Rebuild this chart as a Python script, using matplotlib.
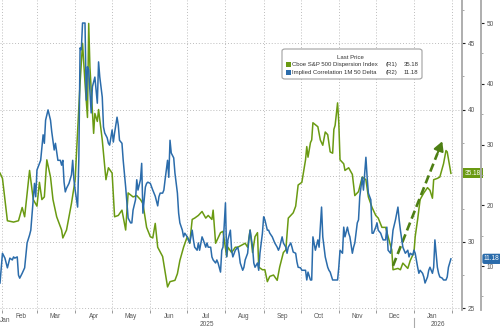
import matplotlib
matplotlib.use("Agg")
import matplotlib.pyplot as plt
import pandas as pd
from matplotlib.patches import FancyBboxPatch, Rectangle
from matplotlib.transforms import blended_transform_factory

# ---------------- data ----------------
start_date = "2025-01-30"
end_date = "2026-02-09"

# Cboe S&P 500 Dispersion Index (R1) -- days since start_date, values
green_days = [0, 2, 6, 11, 15, 18, 20, 24, 27, 30, 32, 34, 36, 38, 41, 43, 46, 50, 51, 54,
              58, 61, 65, 67, 69, 71, 72, 73, 76, 77, 79, 80, 83, 86, 88, 91, 93, 96, 99, 102,
              104, 108, 111, 114, 116, 119, 122, 124, 126, 128, 132, 136, 138, 142, 144, 146, 149, 152, 154, 156,
              158, 161, 164, 167, 169, 172, 173, 175, 179, 181, 184, 185, 188, 191, 193, 197, 199, 201, 203, 205,
              207, 209, 210, 213, 215, 217, 219, 222, 225, 227, 230, 232, 234, 238, 240, 242, 245, 248, 249, 250,
              252, 253, 254, 258, 260, 262, 264, 266, 268, 270, 271, 272, 274, 275, 276, 279, 280, 283, 286, 288,
              291, 294, 297, 299, 302, 305, 307, 310, 313, 315, 318, 319, 323, 325, 327, 331, 333, 336, 337, 339,
              341, 344, 347, 349, 351, 352, 355, 357, 360, 362, 363, 366]
green_vals = [35.2, 34.8, 31.6, 31.5, 31.6, 32.6, 31.9, 35.4, 33.2, 32.7, 34.5, 33.2, 33.4, 36.2, 34.9, 33.2, 31.9, 30.9, 30.3, 30.9,
              32.9, 34.7, 42.0, 45.0, 42.0, 39.4, 46.5, 43.2, 38.2, 39.7, 39.1, 40.0, 37.7, 34.7, 35.6, 35.2, 31.9, 32.0, 32.4, 30.9,
              33.7, 33.4, 33.5, 33.2, 32.9, 31.1, 30.4, 30.3, 31.4, 29.6, 28.9, 26.6, 27.0, 27.1, 27.6, 28.6, 29.6, 30.4, 29.9, 31.7,
              31.8, 32.0, 32.3, 31.8, 32.0, 31.7, 32.4, 29.9, 30.7, 30.8, 28.9, 29.6, 29.2, 29.6, 29.6, 29.8, 29.9, 29.6, 30.9, 29.2,
              30.4, 30.7, 28.1, 27.9, 27.9, 27.0, 27.4, 27.5, 27.1, 28.1, 29.2, 29.4, 31.8, 32.2, 32.7, 34.3, 34.5, 36.2, 37.2, 36.4,
              37.5, 37.7, 39.0, 38.7, 37.7, 37.3, 38.3, 38.1, 36.8, 36.7, 38.5, 38.8, 40.5, 39.0, 36.2, 35.9, 35.4, 35.6, 35.1, 33.5,
              33.8, 34.9, 34.7, 33.4, 32.6, 32.0, 31.8, 31.1, 31.1, 30.4, 29.4, 27.9, 28.0, 27.9, 28.4, 28.0, 28.6, 29.2, 30.4, 31.7,
              33.2, 33.7, 34.1, 33.9, 33.3, 34.7, 34.8, 34.9, 35.9, 36.9, 36.8, 35.18]

# Implied Correlation 1M 50 Delta (R2)
blue_days = [0, 2, 4, 6, 8, 10, 11, 12, 14, 15, 16, 18, 20, 22, 24, 25, 27, 28, 29, 30,
             32, 33, 35, 36, 37, 39, 41, 42, 44, 45, 47, 49, 50, 51, 52, 53, 54, 56, 58, 59,
             60, 61, 63, 64, 65, 66, 67, 69, 70, 71, 72, 74, 75, 77, 79, 80, 81, 83, 84, 85,
             87, 88, 89, 91, 92, 93, 95, 96, 97, 99, 100, 102, 103, 104, 106, 107, 108, 110, 111, 112,
             114, 115, 116, 118, 119, 120, 122, 124, 126, 128, 129, 130, 132, 133, 134, 136, 137, 138, 139, 141,
             142, 144, 145, 146, 148, 149, 150, 152, 153, 154, 156, 157, 158, 160, 161, 162, 164, 165, 167, 168,
             169, 171, 172, 173, 175, 176, 177, 179, 180, 181, 183, 184, 185, 187, 188, 189, 191, 193, 194, 195,
             197, 198, 199, 201, 202, 203, 205, 206, 207, 209, 210, 211, 213, 214, 215, 217, 218, 219, 221, 222,
             223, 225, 226, 227, 229, 230, 232, 233, 234, 236, 237, 238, 240, 241, 242, 244, 245, 246, 248, 249,
             250, 252, 253, 254, 256, 258, 259, 260, 261, 262, 264, 266, 267, 268, 270, 271, 272, 274, 275, 276,
             278, 279, 280, 282, 283, 284, 286, 287, 288, 290, 291, 292, 294, 295, 297, 298, 299, 301, 302, 303,
             305, 306, 307, 309, 310, 311, 313, 314, 315, 317, 318, 319, 321, 323, 324, 325, 327, 328, 329, 331,
             332, 333, 335, 336, 337, 339, 340, 341, 343, 344, 345, 347, 348, 349, 351, 352, 353, 355, 356, 357,
             359, 360, 362, 363, 364, 366]
blue_vals = [7.2, 12.1, 11.3, 9.7, 11.3, 11.0, 11.5, 11.3, 11.5, 8.5, 8.0, 8.8, 9.7, 13.8, 15.1, 15.9, 20.9, 23.6, 21.4, 25.8,
             26.9, 27.4, 31.6, 30.2, 34.0, 35.7, 34.0, 32.1, 29.1, 30.2, 27.4, 27.4, 26.6, 27.4, 23.8, 22.2, 22.8, 23.6, 25.0, 27.4,
             24.2, 22.5, 19.7, 27.8, 45.9, 45.6, 50.0, 50.0, 37.3, 42.8, 42.3, 35.2, 39.5, 41.1, 36.8, 43.6, 41.1, 37.8, 32.9, 31.9,
             31.1, 30.2, 29.9, 32.4, 30.4, 31.9, 34.5, 33.2, 30.7, 30.2, 27.4, 23.0, 20.4, 17.9, 17.1, 17.1, 19.2, 20.9, 24.2, 22.5,
             24.2, 26.9, 18.7, 23.0, 23.6, 23.8, 23.6, 22.5, 21.5, 19.9, 21.4, 22.0, 22.0, 22.5, 24.2, 27.4, 24.6, 30.7, 28.6, 27.8,
             25.3, 22.0, 18.7, 17.1, 15.9, 14.8, 15.4, 14.8, 14.3, 13.8, 15.9, 14.3, 13.1, 12.6, 13.8, 12.6, 14.8, 14.3, 13.1, 13.8,
             13.1, 13.1, 11.5, 11.0, 10.5, 11.0, 10.5, 9.0, 12.6, 13.1, 20.4, 11.5, 14.3, 15.9, 12.6, 11.5, 12.6, 13.1, 12.1, 10.5,
             9.3, 9.8, 11.0, 12.1, 14.3, 15.9, 13.1, 10.5, 9.8, 10.5, 9.3, 12.1, 15.4, 18.1, 17.6, 15.9, 15.9, 15.4, 14.8, 14.3,
             13.8, 13.1, 12.6, 13.1, 14.8, 13.8, 13.1, 12.1, 13.1, 13.8, 13.1, 12.3, 12.1, 10.7, 9.8, 9.7, 9.3, 9.3, 9.3, 7.7,
             9.0, 7.7, 7.7, 14.8, 12.6, 14.3, 13.1, 16.4, 19.7, 14.8, 11.5, 9.8, 9.3, 9.0, 7.7, 7.7, 7.7, 7.7, 9.8, 12.6,
             12.1, 16.4, 14.8, 16.4, 15.4, 14.8, 12.1, 13.1, 13.8, 17.1, 17.6, 21.4, 24.6, 22.5, 27.9, 24.6, 22.0, 20.9, 15.4, 15.4,
             16.4, 17.1, 15.9, 15.4, 14.8, 14.3, 14.3, 16.4, 12.6, 12.1, 13.8, 15.9, 17.6, 19.7, 17.6, 15.9, 13.1, 12.6, 12.1, 12.6,
             11.5, 12.1, 11.8, 12.6, 12.1, 9.8, 8.8, 9.3, 8.8, 8.2, 7.2, 8.2, 9.3, 9.8, 8.8, 9.8, 14.3, 9.8, 8.8, 8.2,
             8.0, 7.7, 7.7, 8.2, 9.8, 11.18]

green_name = "Cboe S&P 500 Dispersion Index"
blue_name = "Implied Correlation 1M 50 Delta"
green_last = "35.18"
blue_last = "11.18"
r1_ticks = [25, 30, 35, 40, 45]
r2_ticks = [10, 20, 30, 40, 50]
arrow_start = ("2025-12-15", 28.2)
arrow_end = ("2026-01-24", 37.6)

# ---------------- styling ----------------
GREEN = "#6a9a12"
GREEN_DARK = "#4e7f14"
BLUE = "#2b6cab"
TXT = "#555555"
FS = 4.7
LFS = 4.3
plt.rcParams["font.family"] = ["Liberation Sans", "DejaVu Sans"]

W, H = 500, 328
fig = plt.figure(figsize=(W / 100, H / 100), dpi=100)
ax = fig.add_axes([0, 18 / H, 462 / W, 310 / H])
ax2 = ax.twinx()

t0 = pd.Timestamp(start_date)
gdates = t0 + pd.to_timedelta(green_days, unit="D")
bdates = t0 + pd.to_timedelta(blue_days, unit="D")

ax.plot(gdates, green_vals, color=GREEN, lw=1.1, zorder=3)
ax2.plot(bdates, blue_vals, color=BLUE, lw=1.1, zorder=3)

xmin, xmax = t0, pd.Timestamp(end_date)
ax.set_xlim(xmin, xmax)
ax.set_ylim(24.86, 48.27)
ax2.set_ylim(2.76, 53.79)

# spines
for a in (ax, ax2):
    for s in ("left", "top", "bottom"):
        a.spines[s].set_visible(False)
    a.spines["right"].set_color("#a8a8a8")
    a.spines["right"].set_linewidth(1.3)
ax2.spines["right"].set_position(("axes", 481 / 462))

# y ticks (the 35 label is hidden under the last-value tag, as in the original)
ax.yaxis.tick_right()
ax.set_yticks(r1_ticks)
ax.set_yticklabels(["" if str(v) == green_last.split(".")[0] else str(v) for v in r1_ticks])
ax.set_yticks([v + 2.5 for v in r1_ticks[:-1]] + [47.5], minor=True)
ax.tick_params(axis="y", which="major", direction="out", length=2.5, width=0.8,
               color="#222222", labelsize=FS, labelcolor=TXT, pad=1.5)
ax.tick_params(axis="y", which="minor", direction="out", length=1.5, width=0.6, color="#999999")
ax2.set_yticks(r2_ticks)
ax2.set_yticks([v + 5 for v in r2_ticks[:-1]] + [5], minor=True)
ax2.tick_params(axis="y", which="major", direction="out", length=2.5, width=0.8,
                color="#222222", labelsize=FS, labelcolor=TXT, pad=1.5)
ax2.tick_params(axis="y", which="minor", direction="out", length=1.5, width=0.6, color="#999999")

# x ticks
month_starts = pd.date_range("2025-02-01", "2026-02-01", freq="MS")
mids = pd.date_range("2025-02-01", "2026-01-01", freq="MS") + pd.Timedelta(days=15)
ax.set_xticks(month_starts)
ax.set_xticklabels([])
ax.set_xticks(mids, minor=True)
ax.set_xticklabels([d.strftime("%b") for d in mids], minor=True)
ax.tick_params(axis="x", which="major", direction="out", length=2.5, width=0.6, color="#888888")
ax.tick_params(axis="x", which="minor", length=0, labelsize=FS, labelcolor=TXT, pad=2.5)

btr = blended_transform_factory(ax.transData, ax.transAxes)
ax.text(xmin, -0.0235, "Jan", transform=btr, ha="left", va="top", fontsize=FS, color=TXT)
y2026 = pd.Timestamp("2026-01-01")
c2025 = xmin + (y2026 - xmin) / 2
c2026 = y2026 + (xmax - y2026) / 2
ax.text(c2025, -0.048, "2025", transform=btr, ha="center", va="center", fontsize=FS, color=TXT)
ax.text(c2026, -0.048, "2026", transform=btr, ha="center", va="center", fontsize=FS, color=TXT)
ax.plot([y2026, y2026], [-0.026, -0.06], transform=btr, color="#aaaaaa", lw=0.8, clip_on=False)

# grid
ax.grid(True, which="major", axis="both", color="#bdbdbd", linestyle=(0, (1, 2)), linewidth=0.7)
ax.set_axisbelow(True)

# arrow
a0 = (pd.Timestamp(arrow_start[0]), arrow_start[1])
a1 = (pd.Timestamp(arrow_end[0]), arrow_end[1])
frac = 0.9
mid = (a0[0] + (a1[0] - a0[0]) * frac, a0[1] + (a1[1] - a0[1]) * frac)
ax.plot([a0[0], mid[0]], [a0[1], mid[1]], color=GREEN_DARK, lw=1.9, linestyle=(0, (3.2, 1.6)), zorder=5)
ax.annotate("", xy=a1, xytext=mid, zorder=6,
            arrowprops=dict(arrowstyle="-|>,head_length=0.55,head_width=0.3", color=GREEN_DARK,
                            lw=1.5, shrinkA=0, shrinkB=0, mutation_scale=10))

# last value tags
ytr1 = blended_transform_factory(ax.transAxes, ax.transData)
ax.text(1.0 + 3 / 462, float(green_last), green_last, transform=ytr1, ha="left", va="center",
        fontsize=FS, color="white", zorder=10, clip_on=False,
        bbox=dict(boxstyle="square,pad=0.25", fc=GREEN, ec="none"))
ytr2 = blended_transform_factory(ax2.transAxes, ax2.transData)
ax2.text(481 / 462 + 3 / 462, float(blue_last), blue_last, transform=ytr2, ha="left", va="center",
         fontsize=FS, color="white", zorder=10, clip_on=False,
         bbox=dict(boxstyle="round,pad=0.25,rounding_size=0.3", fc=BLUE, ec="none"))

# legend box
def fx(px):
    return px / W

def fy(py):
    return 1 - py / H

box = FancyBboxPatch((fx(282), fy(79)), fx(422) - fx(282), fy(49) - fy(79),
                     boxstyle="round,pad=0,rounding_size=0.006", transform=fig.transFigure,
                     fc="white", ec="#a0a0a0", lw=0.8, zorder=20)
fig.add_artist(box)
fig.text(fx(350), fy(57.3), "Last Price", ha="center", va="center", fontsize=LFS, color="#333333", zorder=21)
for row_y, col, name, tag, val in ((64.3, GREEN, green_name, "(R1)", green_last),
                                   (72.3, BLUE, blue_name, "(R2)", blue_last)):
    fig.add_artist(Rectangle((fx(285.7), fy(row_y + 2.6)), fx(5.2), 5.2 / H, transform=fig.transFigure,
                             fc=col, ec="none", zorder=21))
    fig.text(fx(292.5), fy(row_y), name, ha="left", va="center", fontsize=LFS, color="#333333", zorder=21)
    fig.text(fx(385.5), fy(row_y), tag, ha="left", va="center", fontsize=LFS, color="#333333", zorder=21)
    fig.text(fx(418.5), fy(row_y), val, ha="right", va="center", fontsize=LFS, color="#333333", zorder=21)

fig.savefig("out.png", dpi=100)
